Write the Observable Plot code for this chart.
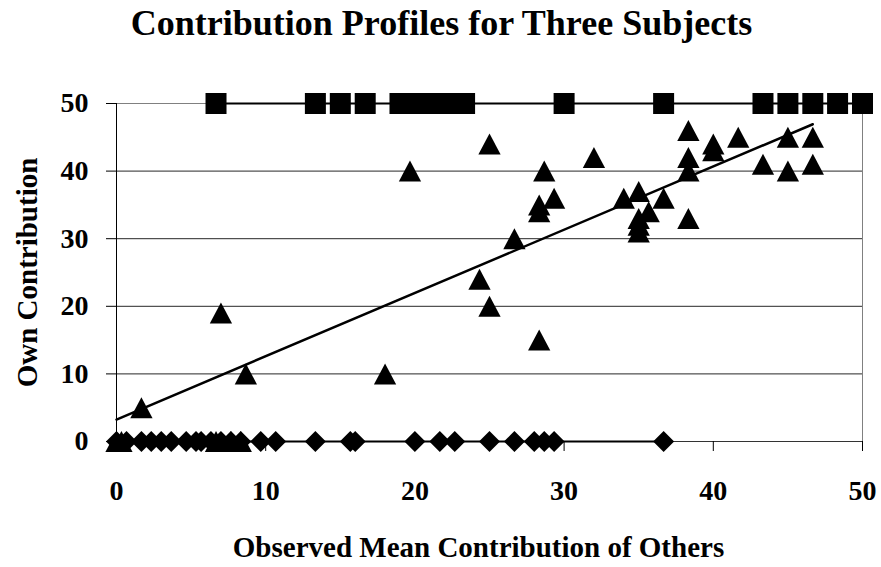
<!DOCTYPE html>
<html>
<head>
<meta charset="utf-8">
<script src="https://cdn.jsdelivr.net/npm/d3@7"></script>
<script src="https://cdn.jsdelivr.net/npm/@observablehq/plot@0.6"></script>
<style>
  html, body { margin: 0; padding: 0; background: #fff; }
</style>
</head>
<body>
<div id="chart"></div>
<script>
// ---- Data ----
const titleText = "Contribution Profiles for Three Subjects";
const xLabel = "Observed Mean Contribution of Others";
const yLabel = "Own Contribution";
const xTicks = [0, 10, 20, 30, 40, 50];
const yTicks = [0, 10, 20, 30, 40, 50];

// Subject A (squares): always contributes 50
const squareX = [6.67, 13.33, 15, 16.67, 19, 19.67, 20.33, 21, 21.67, 22.33, 23.33, 30, 36.67, 43.33, 45, 46.67, 48.33, 50];
const squareY = [50, 50, 50, 50, 50, 50, 50, 50, 50, 50, 50, 50, 50, 50, 50, 50, 50, 50];

// Subject B (diamonds): always contributes 0
const diamondX = [0, 0.67, 1.67, 2.33, 3, 3.67, 4.67, 5.33, 5.67, 6.33, 7, 7.67, 8.33, 9.67, 10.67, 13.33, 15.67, 16, 20, 21.67, 22.67, 25, 26.67, 28, 28.67, 29.33, 36.67];
const diamondY = [0, 0, 0, 0, 0, 0, 0, 0, 0, 0, 0, 0, 0, 0, 0, 0, 0, 0, 0, 0, 0, 0, 0, 0, 0, 0, 0];

// Subject C (triangles): conditional cooperator
const triX = [0, 0.33, 6.67, 7.67, 8.33, 1.67, 7, 8.67, 18, 19.67, 24.33, 25, 25, 26.67, 28.33, 28.33, 28.33, 28.67, 29.33, 32, 34, 35, 35, 35, 35, 35.67, 36.67, 38.33, 38.33, 38.33, 38.33, 40, 40, 41.67, 43.33, 45, 45, 46.67, 46.67];
const triY = [0, 0, 0, 0, 0, 5, 19, 10, 10, 40, 24, 44, 20, 30, 15, 34, 35, 40, 36, 42, 36, 37, 33, 32, 31, 34, 36, 33, 40, 42, 46, 44, 43, 45, 41, 45, 40, 45, 41];

// Linear trend line of subject C
const trendIntercept = [3.25];
const trendSlope = [0.936];

// ---- Build tables ----
const squares = squareX.map((x, i) => ({x, y: squareY[i]}));
const diamonds = diamondX.map((x, i) => ({x, y: diamondY[i]}));
const triangles = triX.map((x, i) => ({x, y: triY[i]}));
const tx = d3.extent(triX);
const trend = tx.map(x => ({x, y: trendIntercept[0] + trendSlope[0] * x}));

// ---- Custom symbols (bounding-box centred, like the spreadsheet markers) ----
const squareSym = {draw(ctx, size) { const s = Math.sqrt(size); ctx.rect(-s / 2, -s / 2, s, s); }};
const triSym = {draw(ctx, size) { const s = Math.sqrt(size); ctx.moveTo(0, -s / 2); ctx.lineTo(s * 0.53, s / 2); ctx.lineTo(-s * 0.53, s / 2); ctx.closePath(); }};
const diaSym = {draw(ctx, size) { const s = Math.sqrt(size); ctx.moveTo(0, -s / 2); ctx.lineTo(s / 2, 0); ctx.lineTo(0, s / 2); ctx.lineTo(-s / 2, 0); ctx.closePath(); }};
const R = 21 / Math.sqrt(Math.PI);

const font = "'Liberation Serif', 'Times New Roman', Times, serif";

const chart = Plot.plot({
  width: 881,
  height: 567,
  marginLeft: 116,
  marginRight: 19,
  marginTop: 103,
  marginBottom: 126,
  x: {domain: [0, 50]},
  y: {domain: [0, 50]},
  style: {fontFamily: font, fontWeight: "bold", color: "#000", background: "#fff", overflow: "visible"},
  marks: [
    Plot.ruleY(yTicks.filter(v => v > 0 && v < 50), {stroke: "#000", strokeWidth: 1, strokeOpacity: 0.85}),
    Plot.ruleY([50], {stroke: "#808080", strokeWidth: 1}),
    Plot.ruleX([50], {stroke: "#808080", strokeWidth: 1}),
    Plot.ruleY([0], {stroke: "#333", strokeWidth: 1}),
    Plot.ruleX([0], {stroke: "#000", strokeWidth: 1}),
    Plot.axisY({ticks: yTicks, tickSize: 10, tickPadding: 18, fontSize: 28, fontWeight: "bold", label: null, tickFormat: d => String(d)}),
    Plot.axisX({ticks: xTicks, tickSize: 10, tickPadding: 29, fontSize: 28, fontWeight: "bold", label: null, tickFormat: d => String(d)}),
    Plot.line(trend, {x: "x", y: "y", stroke: "#000", strokeWidth: 2.5}),
    Plot.line(squares, {x: "x", y: "y", stroke: "#000", strokeWidth: 2}),
    Plot.line(diamonds, {x: "x", y: "y", stroke: "#000", strokeWidth: 2}),
    Plot.dot(triangles, {x: "x", y: "y", r: R, symbol: triSym, fill: "#000", stroke: "none"}),
    Plot.dot(diamonds, {x: "x", y: "y", r: R, symbol: diaSym, fill: "#000", stroke: "none"}),
    Plot.dot(squares, {x: "x", y: "y", r: R, symbol: squareSym, fill: "#000", stroke: "none"}),
    Plot.text([titleText], {frameAnchor: "top", dx: -48, dy: -80.5, fontSize: 36, fontWeight: "bold", textAnchor: "middle", lineAnchor: "middle", fill: "#000"}),
    Plot.text([xLabel], {frameAnchor: "bottom", dx: -11, dy: 106, fontSize: 29, fontWeight: "bold", textAnchor: "middle", lineAnchor: "middle", fill: "#000"}),
    Plot.text([yLabel], {frameAnchor: "left", dx: -89, dy: 0, rotate: -90, fontSize: 29, fontWeight: "bold", textAnchor: "middle", lineAnchor: "middle", fill: "#000"})
  ]
});
document.getElementById("chart").appendChild(chart);
</script>
</body>
</html>
